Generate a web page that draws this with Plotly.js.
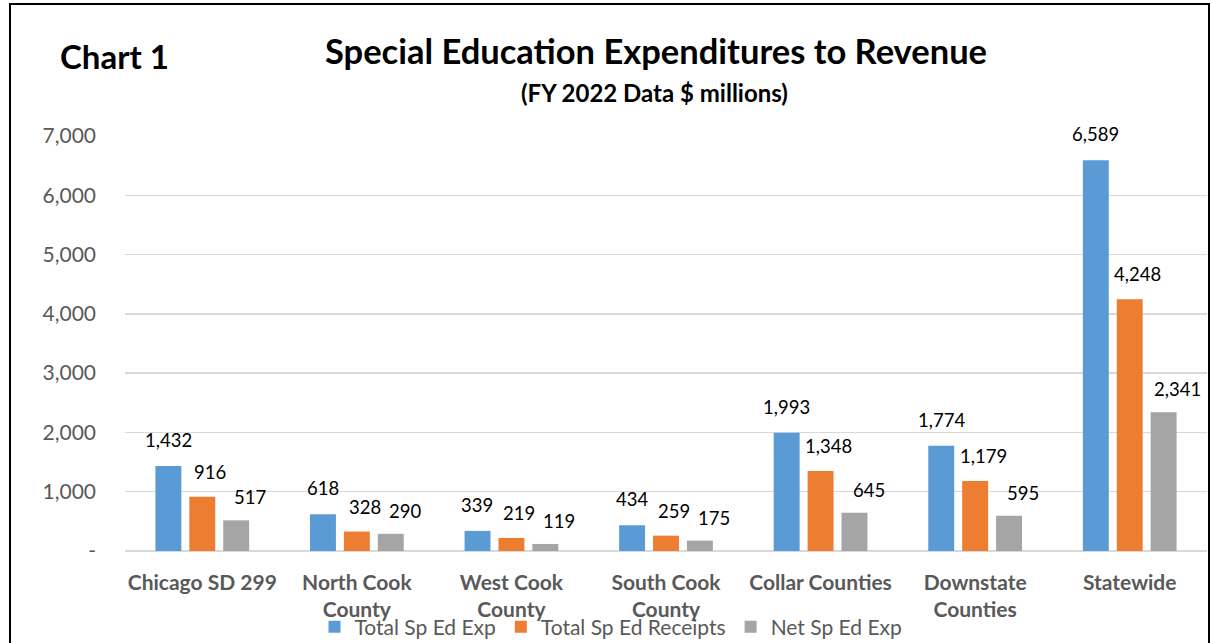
<!DOCTYPE html>
<html>
<head>
<meta charset="utf-8">
<script src="https://cdn.plot.ly/plotly-3.0.1.min.js"></script>
<style>
  html, body { margin: 0; padding: 0; background: #ffffff; overflow: hidden; }
  #frame { position: absolute; left: 9px; top: 3px; width: 1197px; height: 700px; border: 2px solid #000; }
  #chart { position: absolute; left: 0; top: 0; width: 1211px; height: 643px; }
</style>
</head>
<body>
<div id="frame"></div>
<div id="chart"></div>
<script>
const categories = ["Chicago SD 299", "North Cook<br>County", "West Cook<br>County", "South Cook<br>County", "Collar Counties", "Downstate<br>Counties", "Statewide"];
const totalSpEdExp = [1432, 618, 339, 434, 1993, 1774, 6589];
const totalSpEdReceipts = [916, 328, 219, 259, 1348, 1179, 4248];
const netSpEdExp = [517, 290, 119, 175, 645, 595, 2341];
const seriesNames = ["Total Sp Ed Exp", "Total Sp Ed Receipts", "Net Sp Ed Exp"];
const yTickVals = [0, 1000, 2000, 3000, 4000, 5000, 6000, 7000];
const yTickText = ["-", "1,000", "2,000", "3,000", "4,000", "5,000", "6,000", "7,000"];

const colors = ["#5B9BD5", "#ED7D31", "#A5A5A5"];
const seriesData = [totalSpEdExp, totalSpEdReceipts, netSpEdExp];
const FONT = "Lato, 'Open Sans', sans-serif";

const traces = seriesData.map((vals, i) => ({
  type: "bar",
  name: seriesNames[i],
  x: categories,
  y: vals,
  marker: { color: colors[i] },
  hoverinfo: "x+y+name"
}));

// label offsets per series (pixels): group slot offset + label nudge
const slotShift = [-34, 0, 34];
const nudgeX = [0, 8, 14];
const nudgeY = [13, 12, 10];
const annotations = [];
seriesData.forEach((vals, i) => {
  vals.forEach((v, j) => {
    annotations.push({
      x: categories[j], y: v, xref: "x", yref: "y",
      text: v.toLocaleString("en-US"),
      showarrow: false,
      xanchor: "center", yanchor: "bottom",
      xshift: slotShift[i] + nudgeX[i], yshift: nudgeY[i],
      font: { family: FONT, size: 18.5, color: "#000000" }
    });
  });
});

annotations.push({
  text: "<b>Chart 1</b>", xref: "paper", yref: "paper",
  x: (114 - 125) / 1082, y: (551 - 56) / 415, xanchor: "center", yanchor: "middle", showarrow: false,
  font: { family: FONT, size: 33, color: "#000000" }
});
annotations.push({
  text: "<b>(FY 2022 Data $ millions)</b>", xref: "paper", yref: "paper",
  x: (654 - 125) / 1082, y: (551 - 93) / 415, xanchor: "center", yanchor: "middle", showarrow: false,
  font: { family: FONT, size: 24, color: "#000000" }
});

const layout = {
  width: 1211, height: 643,
  paper_bgcolor: "rgba(0,0,0,0)",
  plot_bgcolor: "rgba(0,0,0,0)",
  margin: { l: 125, r: 4, t: 136, b: 92, autoexpand: false },
  title: {
    text: "<b>Special Education Expenditures to Revenue</b>",
    x: 656 / 1211, xref: "container", xanchor: "center",
    y: 1 - 52 / 643, yref: "container", yanchor: "middle",
    font: { family: FONT, size: 34.5, color: "#000000" }
  },
  barmode: "group",
  bargap: 0.342,
  bargroupgap: 0.235,
  xaxis: {
    type: "category",
    showgrid: false,
    showline: false,
    zeroline: false,
    ticks: "",
    ticklabelstandoff: 17,
    tickfont: { family: FONT, size: 21, color: "#595959", weight: "bold" },
    fixedrange: true
  },
  yaxis: {
    range: [0, 7000],
    tickvals: yTickVals,
    ticktext: yTickText,
    showgrid: true,
    gridcolor: "#D9D9D9",
    gridwidth: 1.5,
    zeroline: true,
    zerolinecolor: "#D9D9D9",
    zerolinewidth: 1.5,
    showline: false,
    ticks: "",
    ticklabelstandoff: 28,
    tickfont: { family: FONT, size: 21, color: "#595959" },
    fixedrange: true
  },
  showlegend: true,
  legend: {
    orientation: "h",
    xref: "container", yref: "container",
    x: 611 / 1211, xanchor: "center",
    y: 1 - 627 / 643, yanchor: "middle",
    bgcolor: "rgba(0,0,0,0)",
    font: { family: FONT, size: 21, color: "#595959" },
    itemwidth: 30,
    traceorder: "normal"
  },
  annotations: annotations
};

Plotly.newPlot("chart", traces, layout, { displayModeBar: false, staticPlot: true });
</script>
</body>
</html>
